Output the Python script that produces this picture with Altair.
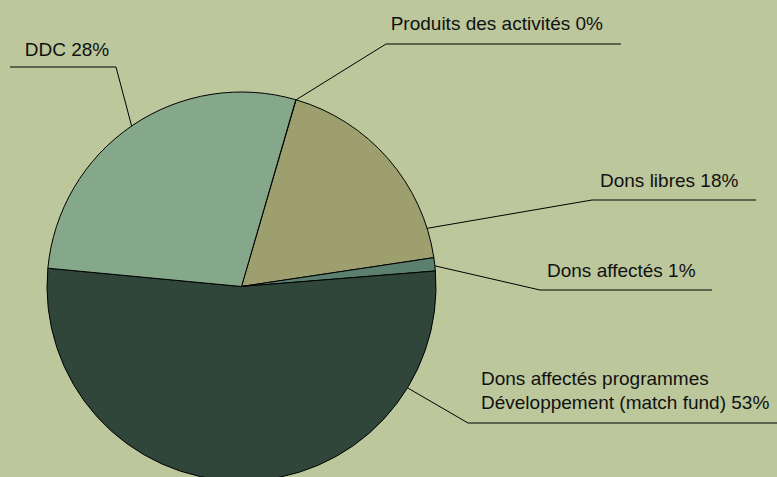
import math
import altair as alt
import pandas as pd

# ---------------- data ----------------
categories = [
    "Produits des activités",
    "Dons libres",
    "Dons affectés",
    "Dons affectés programmes\nDéveloppement (match fund)",
    "DDC",
]
values = [0.03, 18.1, 1.1, 52.77, 28.0]
slice_colors = ["#8f9a6a", "#9e9f6f", "#5b8070", "#30463a", "#86a88a"]

# ---------------- layout ----------------
W, H = 777, 477
CX, CY, R = 241.5, 286.5, 194.5
START_DEG = 16.2
BG = "#bcc79c"
FONT = "Liberation Sans"
FS = 19

leader_angle = [16.3, 72.6, 83.9, 121.4, 325.6]
leader_elbow = [(386, 44), (592, 200), (540, 290), (468, 423), (116, 67)]
leader_end_x = [621, 756, 712, 777, 10]
text_pos = [(390.7, 30), (600, 187), (547, 277), (481, 385), (24.7, 56)]

total = sum(values)
labels = [f"{c} {round(v / total * 100)}%" for c, v in zip(categories, values)]

pie_df = pd.DataFrame({"name": categories, "value": values, "ord": list(range(len(values)))})

rows = []
for i, (a, (ex, ey), endx) in enumerate(zip(leader_angle, leader_elbow, leader_end_x)):
    rad = math.radians(a)
    sx = CX + R * math.sin(rad)
    sy = CY - R * math.cos(rad)
    rows += [
        {"id": i, "o": 0, "x": sx, "y": sy},
        {"id": i, "o": 1, "x": ex, "y": ey},
        {"id": i, "o": 2, "x": endx, "y": ey},
    ]
lines_df = pd.DataFrame(rows)

text_df = pd.DataFrame({
    "label": labels,
    "x": [p[0] for p in text_pos],
    "y": [p[1] for p in text_pos],
})

s = math.radians(START_DEG)
xs = alt.Scale(domain=[0, W], nice=False, zero=False)
ys = alt.Scale(domain=[H, 0], nice=False, zero=False)

pie = alt.Chart(pie_df).mark_arc(outerRadius=R, stroke="black", strokeWidth=1).encode(
    theta=alt.Theta("value:Q", stack=True, scale=alt.Scale(range=[s, s + 2 * math.pi])),
    color=alt.Color("name:N", scale=alt.Scale(domain=categories, range=slice_colors), legend=None),
    order=alt.Order("ord:Q"),
    x=alt.value(CX),
    y=alt.value(CY),
)

leaders = alt.Chart(lines_df).mark_line(color="black", strokeWidth=1).encode(
    x=alt.X("x:Q", scale=xs, axis=None),
    y=alt.Y("y:Q", scale=ys, axis=None),
    detail="id:N",
    order="o:Q",
)

texts = alt.Chart(text_df).mark_text(
    align="left", baseline="alphabetic", font=FONT, fontSize=FS, color="#111111",
    lineBreak="\n", lineHeight=24,
).encode(
    x=alt.X("x:Q", scale=xs, axis=None),
    y=alt.Y("y:Q", scale=ys, axis=None),
    text="label:N",
)

chart = (
    alt.layer(pie, leaders, texts)
    .properties(width=W, height=H, background=BG, padding=0, autosize="none")
    .configure_view(stroke=None)
)

chart.save("out.html", embed_options={"renderer": "svg", "actions": False})
